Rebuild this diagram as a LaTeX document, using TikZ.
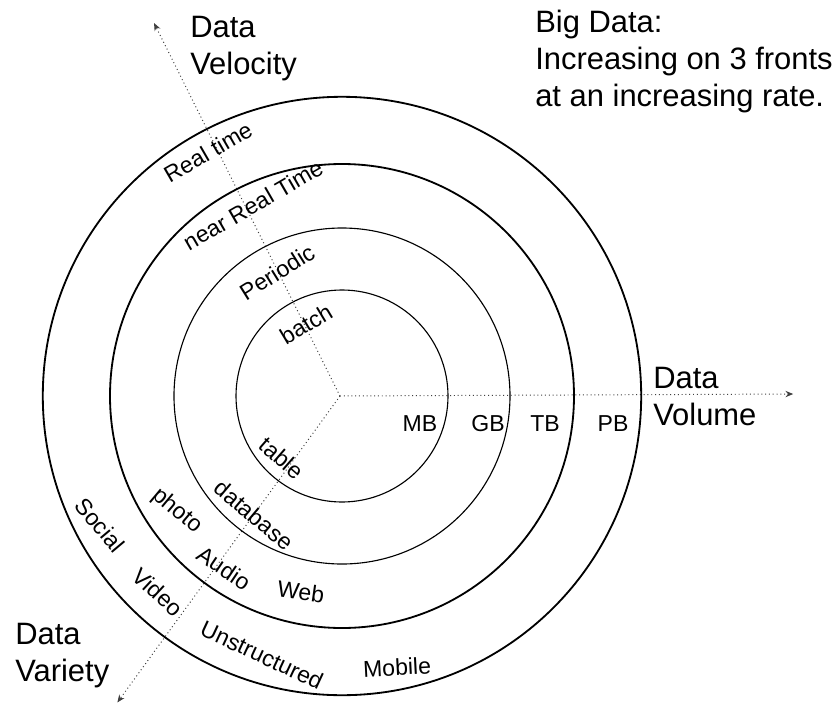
\documentclass[tikz,border=0pt]{standalone}
\usepackage{fontspec}
\setmainfont{Liberation Sans}
\usetikzlibrary{arrows.meta}

\tikzstyle{ring} = [line width=0.8pt]
\tikzstyle{bigring} = [line width=1.3pt]
\tikzstyle{axis} = [->, >={Stealth[length=5.5pt,width=4.5pt]}, dotted, line width=0.7pt, black!75]
\tikzstyle{lbl} = [font=\fontsize{16.4}{19}\selectfont, inner sep=0pt]
\tikzstyle{head} = [font=\fontsize{22}{26.3}\selectfont, align=left, anchor=north west, inner sep=0pt]

\begin{document}
\begin{tikzpicture}
\useasboundingbox (-8.5,-7.7) rectangle (12.375,9.9);

% the three growth directions
\coordinate (o) at (0,0);
\coordinate (vel) at (116.5:10.42);
\coordinate (vol) at (11.33,0.05);
\coordinate (var) at (-126:9.47);
\draw[axis] (o) -- (vel);
\draw[axis] (o) -- (vol);
\draw[axis] (o) -- (var);

% rings
\draw [ring] (0.05,0) circle (2.65);
\draw [ring] (0.05,0) circle (4.2);
\draw [bigring] (0.05,0) circle (5.8);
\draw [bigring] (0.05,0) circle (7.48);

% velocity
\node[lbl,rotate=30] (realtime) at (-3.3,6.1) {Real time};
\node[lbl,rotate=30] (nearrt) at (-2.175,4.775) {near Real Time};
\node[lbl,rotate=32] (periodic) at (-1.575,3.1) {Periodic};
\node[lbl,rotate=31] (batch) at (-0.85,1.8) {batch};

% volume
\node[lbl] (mb) at (2.0,-0.7) {MB};
\node[lbl] (gb) at (3.7,-0.7) {GB};
\node[lbl] (tb) at (5.125,-0.7) {TB};
\node[lbl] (pb) at (6.825,-0.7) {PB};

% variety
\node[lbl,rotate=-41] (table) at (-1.45,-1.55) {table};
\node[lbl,rotate=-40] (database) at (-2.15,-2.975) {database};
\node[lbl,rotate=-40] (photo) at (-4.075,-2.875) {photo};
\node[lbl,rotate=-34] (audio) at (-2.9,-4.3) {Audio};
\node[lbl,rotate=-8] (web) at (-0.975,-4.9) {Web};
\node[lbl,rotate=-50] (social) at (-6.0,-3.225) {Social};
\node[lbl,rotate=-43] (video) at (-4.55,-4.9) {Video};
\node[lbl,rotate=-25] (unstruct) at (-1.95,-6.475) {Unstructured};
\node[lbl,rotate=3] (mobile) at (1.425,-6.775) {Mobile};

% axis names
\node[head] (velname) at (-3.75,9.5) {Data\\Velocity};
\node[head] (volname) at (7.825,0.725) {Data\\Volume};
\node[head] (varname) at (-8.125,-5.675) {Data\\Variety};
\node[head] (title) at (4.875,9.65) {Big Data:\\Increasing on 3 fronts\\at an increasing rate.};

\end{tikzpicture}
\end{document}
